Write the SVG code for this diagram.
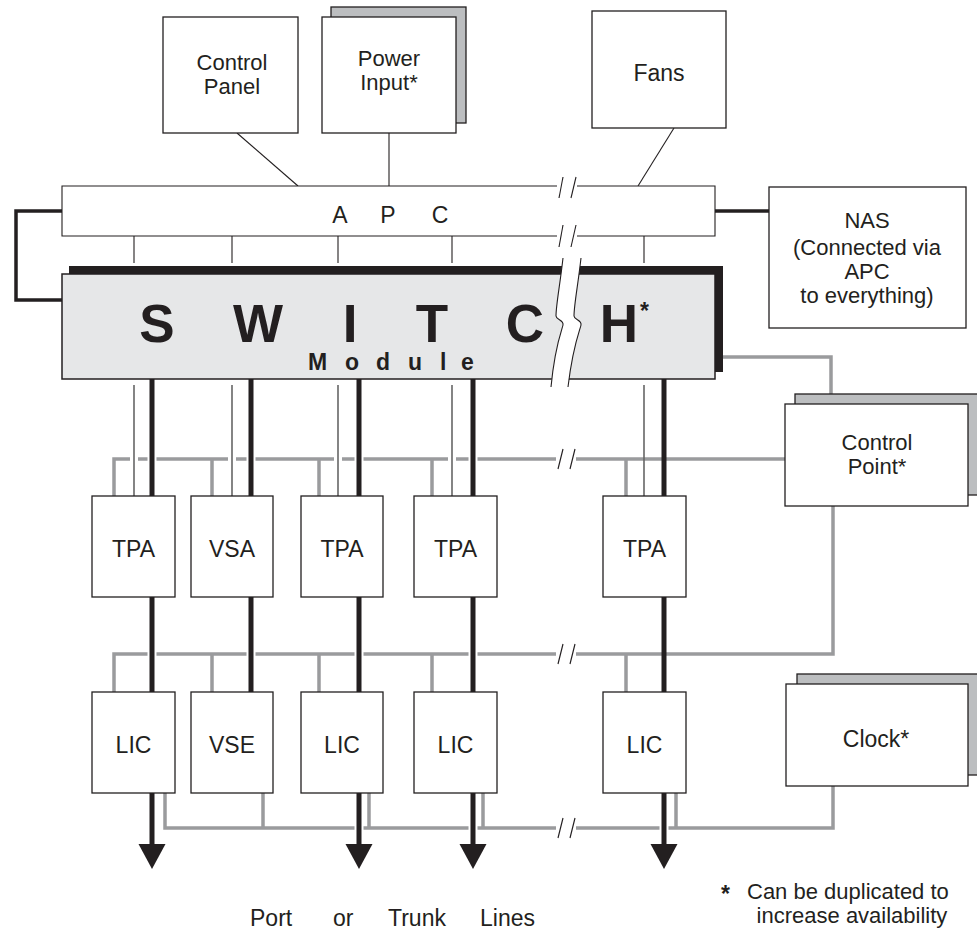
<svg xmlns="http://www.w3.org/2000/svg" width="977" height="930" viewBox="0 0 977 930">
<style>
text{font-family:"Liberation Sans",Arial,sans-serif;fill:#231f20;font-size:23px}
.c{text-anchor:middle}
.m{font-size:22px}
.box{fill:#fff;stroke:#231f20;stroke-width:1.3}
.shadow{fill:#bcbec0;stroke:#231f20;stroke-width:1.3}
.thin{stroke:#231f20;stroke-width:1.1;fill:none}
.thin2{stroke:#666;stroke-width:1.6;fill:none}
.thick{stroke:#231f20;stroke-width:5;fill:none}
.blk{stroke:#231f20;stroke-width:3.5;fill:none}
.gray{stroke:#9a9b9d;stroke-width:3.5;fill:none}
.halo{stroke:#fff;stroke-width:6;fill:none}
.sw{font-weight:bold;font-size:53px}
</style>
<defs>
<polygon id="arr" points="-13.5,0 13.5,0 0,25" fill="#231f20"/>
</defs>

<g id="connectors">
  <line class="thin" x1="237" y1="133" x2="298" y2="186"/>
  <line class="thin" x1="389" y1="133" x2="389" y2="186"/>
  <line class="thin" x1="674" y1="128" x2="638" y2="186"/>
  <path class="blk" d="M62,211 H16 V300 H62"/>
  <line class="blk" x1="715" y1="211" x2="769" y2="211" stroke-width="4"/>
  <g class="thin">
    <line x1="134" y1="236" x2="134" y2="263"/>
    <line x1="232" y1="236" x2="232" y2="263"/>
    <line x1="338" y1="236" x2="338" y2="263"/>
    <line x1="452" y1="236" x2="452" y2="263"/>
    <line x1="644" y1="236" x2="644" y2="263"/>
  </g>
  <path class="gray" d="M723,357 H831 V394"/>
  <path class="gray" d="M114,496 V459 H556 M576,459 H785"/>
  <path class="gray" d="M212,459 V496 M319,459 V496 M432,459 V496 M626,459 V496"/>
  <path class="gray" d="M114,692 V654 H556 M576,654 H833 V506"/>
  <path class="gray" d="M212,654 V692 M319,654 V692 M432,654 V692 M626,654 V692"/>
  <path class="gray" d="M165,793 V828 H556 M576,828 H833 V786"/>
  <path class="gray" d="M263,793 V828 M369,793 V828 M483,793 V828 M676,793 V828"/>
  <g class="thin" stroke-width="1.4">
    <line x1="558" y1="469" x2="563" y2="449"/>
    <line x1="570" y1="469" x2="575" y2="449"/>
    <line x1="558" y1="664" x2="563" y2="644"/>
    <line x1="570" y1="664" x2="575" y2="644"/>
    <line x1="558" y1="838" x2="563" y2="818"/>
    <line x1="570" y1="838" x2="575" y2="818"/>
  </g>
  <g class="halo">
    <line x1="130" y1="459" x2="138" y2="459"/>
    <line x1="228" y1="459" x2="236" y2="459"/>
    <line x1="334" y1="459" x2="342" y2="459"/>
    <line x1="448" y1="459" x2="456" y2="459"/>
    <line x1="147.5" y1="459" x2="156.5" y2="459"/>
    <line x1="246.5" y1="459" x2="255.5" y2="459"/>
    <line x1="354.5" y1="459" x2="363.5" y2="459"/>
    <line x1="468.5" y1="459" x2="477.5" y2="459"/>
    <line x1="147.5" y1="654" x2="156.5" y2="654"/>
    <line x1="246.5" y1="654" x2="255.5" y2="654"/>
    <line x1="354.5" y1="654" x2="363.5" y2="654"/>
    <line x1="468.5" y1="654" x2="477.5" y2="654"/>
    <line x1="354.5" y1="828" x2="363.5" y2="828"/>
    <line x1="468.5" y1="828" x2="477.5" y2="828"/>
    <line x1="659.5" y1="828" x2="668.5" y2="828"/>
  </g>
  <g class="thin2">
    <line x1="134" y1="385" x2="134" y2="496"/>
    <line x1="232" y1="385" x2="232" y2="496"/>
    <line x1="338" y1="385" x2="338" y2="496"/>
    <line x1="452" y1="385" x2="452" y2="496"/>
    <line x1="644" y1="385" x2="644" y2="496"/>
  </g>
  <g class="thick">
    <line x1="152" y1="379" x2="152" y2="845"/>
    <line x1="251" y1="379" x2="251" y2="692"/>
    <line x1="359" y1="379" x2="359" y2="845"/>
    <line x1="473" y1="379" x2="473" y2="845"/>
    <line x1="664" y1="379" x2="664" y2="845"/>
  </g>
  <use href="#arr" x="152" y="844"/>
  <use href="#arr" x="359" y="844"/>
  <use href="#arr" x="473" y="844"/>
  <use href="#arr" x="664" y="844"/>
</g>

<g id="control-panel">
  <rect class="box" x="163" y="17" width="135" height="116"/>
  <text class="c m" x="232" y="70">Control</text>
  <text class="c m" x="232" y="94">Panel</text>
</g>
<g id="power-input">
  <rect class="shadow" x="331" y="7" width="135" height="116"/>
  <rect class="box" x="322" y="17" width="134" height="116"/>
  <text class="c m" x="389" y="66">Power</text>
  <text class="c m" x="389" y="90">Input*</text>
</g>
<g id="fans">
  <rect class="box" x="592" y="11" width="134" height="117"/>
  <text class="c" x="659" y="81">Fans</text>
</g>
<g id="apc">
  <rect x="62" y="186" width="653" height="50" fill="#fff"/>
  <path class="thin" stroke-width="1.3" d="M557,186 H62 V236 H557 M577,186 H715 V236 H577"/>
  <g class="thin" stroke-width="1.4">
    <line x1="559" y1="198" x2="563" y2="177"/>
    <line x1="571" y1="198" x2="576" y2="177"/>
    <line x1="559" y1="247" x2="563" y2="225"/>
    <line x1="571" y1="247" x2="576" y2="225"/>
  </g>
  <text class="c" x="340" y="223">A</text>
  <text class="c" x="388" y="223">P</text>
  <text class="c" x="440" y="223">C</text>
</g>
<g id="nas">
  <rect class="box" x="769" y="187" width="197" height="141"/>
  <text class="c m" x="867" y="228">NAS</text>
  <text class="c m" x="867" y="255">(Connected via</text>
  <text class="c m" x="867" y="279">APC</text>
  <text class="c m" x="867" y="303">to everything)</text>
</g>
<g id="switch">
  <rect x="69" y="266" width="654" height="106" fill="#231f20"/>
  <rect x="62" y="274" width="653" height="105" fill="#e6e7e8" stroke="#231f20" stroke-width="1.5"/>
  <text class="c sw" x="157" y="342">S</text>
  <text class="c sw" x="258" y="342">W</text>
  <text class="c sw" x="350" y="342">I</text>
  <text class="c sw" x="432" y="342">T</text>
  <text class="c sw" x="525" y="342">C</text>
  <text class="c sw" x="619" y="342">H</text>
  <text x="640" y="319" font-weight="bold" font-size="22">*</text>
  <text x="308 345 376 408 440 461" y="370" font-weight="bold" font-size="24">Module</text>
  <path fill="#fff" d="M563,258 C560,285 556,305 556,316 C556,320 564,320 563,325 C562,330 555,345 551,387 L568,387 C573,345 580,330 581,325 C582,320 574,320 574,316 C574,305 578,285 581,258 Z"/>
  <path class="thin" d="M563,258 C560,285 556,305 556,316 C556,320 564,320 563,325 C562,330 555,345 551,387"/>
  <path class="thin" d="M581,258 C578,285 574,305 574,316 C574,320 582,320 581,325 C580,330 573,345 568,387"/>
</g>
<g id="control-point">
  <rect class="shadow" x="795" y="394" width="200" height="101"/>
  <rect class="box" x="785" y="404" width="183" height="102"/>
  <text class="c m" x="877" y="450">Control</text>
  <text class="c m" x="877" y="474">Point*</text>
</g>
<g id="clock">
  <rect class="shadow" x="797" y="674" width="200" height="101"/>
  <rect class="box" x="786" y="684" width="182" height="102"/>
  <text class="c" x="876" y="747">Clock*</text>
</g>
<g id="tpa1"><rect class="box" x="92" y="496" width="83" height="101"/><text class="c" x="133.5" y="557">TPA</text></g>
<g id="vsa"><rect class="box" x="191" y="496" width="82" height="101"/><text class="c" x="232" y="557">VSA</text></g>
<g id="tpa2"><rect class="box" x="301" y="496" width="82" height="101"/><text class="c" x="342" y="557">TPA</text></g>
<g id="tpa3"><rect class="box" x="414" y="496" width="83" height="101"/><text class="c" x="455.5" y="557">TPA</text></g>
<g id="tpa4"><rect class="box" x="603" y="496" width="83" height="101"/><text class="c" x="644.5" y="557">TPA</text></g>
<g id="lic1"><rect class="box" x="92" y="692" width="83" height="101"/><text class="c" x="133.5" y="753">LIC</text></g>
<g id="vse"><rect class="box" x="191" y="692" width="82" height="101"/><text class="c" x="232" y="753">VSE</text></g>
<g id="lic2"><rect class="box" x="301" y="692" width="82" height="101"/><text class="c" x="342" y="753">LIC</text></g>
<g id="lic3"><rect class="box" x="414" y="692" width="83" height="101"/><text class="c" x="455.5" y="753">LIC</text></g>
<g id="lic4"><rect class="box" x="603" y="692" width="83" height="101"/><text class="c" x="644.5" y="753">LIC</text></g>
<g id="labels">
  <text x="250" y="926">Port</text>
  <text x="333" y="926">or</text>
  <text x="388" y="926">Trunk</text>
  <text x="480" y="926">Lines</text>
  <text x="721" y="902" font-weight="bold">*</text>
  <text class="m" x="747" y="899">Can be duplicated to</text>
  <text class="c m" x="852" y="923">increase availability</text>
</g>
</svg>
